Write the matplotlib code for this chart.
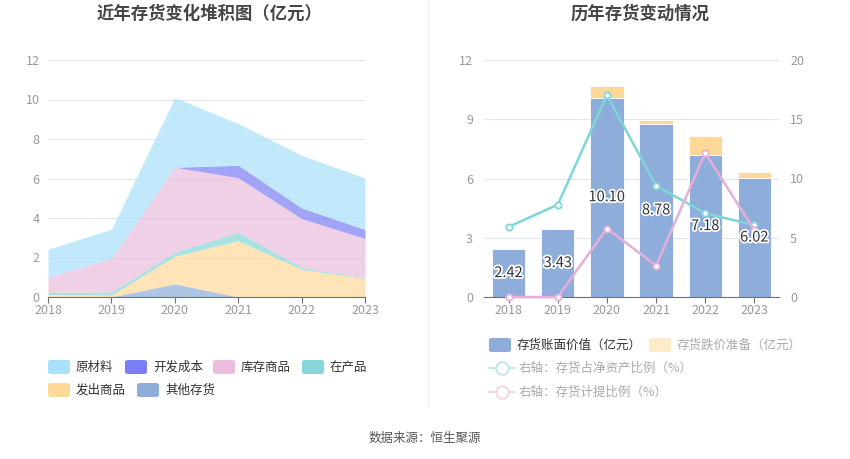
import matplotlib
matplotlib.use("Agg")
import matplotlib.pyplot as plt
import matplotlib.patheffects as pe
from matplotlib.patches import FancyBboxPatch
from matplotlib.lines import Line2D
import numpy as np

plt.rcParams['font.family'] = ['Noto Sans CJK SC', 'DejaVu Sans']

years = ['2018', '2019', '2020', '2021', '2022', '2023']

# left chart: stacked inventory components (亿元), bottom to top
other_inv = [0.0, 0.0, 0.67, 0.0, 0.0, 0.0]       # 其他存货
shipped = [0.13, 0.10, 1.40, 2.85, 1.40, 0.93]      # 发出商品
wip = [0.12, 0.15, 0.20, 0.43, 0.10, 0.03]          # 在产品
goods = [0.76, 1.70, 4.30, 2.76, 2.47, 2.00]        # 库存商品
dev_cost = [0.0, 0.0, 0.0, 0.63, 0.54, 0.46]        # 开发成本
raw = [1.41, 1.48, 3.53, 2.11, 2.67, 2.60]          # 原材料

# right chart
book_value = [2.42, 3.43, 10.10, 8.78, 7.18, 6.02]  # 存货账面价值
reserve = [0.0, 0.0, 0.59, 0.20, 0.96, 0.33]        # 存货跌价准备
ratio_net = [5.92, 7.79, 17.04, 9.39, 7.07, 6.06]   # 存货占净资产比例 %
ratio_prov = [0.0, 0.0, 5.78, 2.65, 12.15, 5.64]    # 存货计提比例 %

W, H = 850, 459
fig = plt.figure(figsize=(8.5, 4.59), dpi=100)

def fx(x):
    return x / W

def fy(y):
    return 1 - y / H

grid_c = '#e0e6f1'
tick_c = '#999999'
axis_c = '#6e7079'

# ---------- left: stacked area ----------
ax1 = fig.add_axes([fx(48), fy(297), fx(365 - 48), (297 - 60) / H])
x = np.arange(len(years))
stack_names = ['其他存货', '发出商品', '在产品', '库存商品', '开发成本', '原材料']
stack_vals = [other_inv, shipped, wip, goods, dev_cost, raw]
stack_cols = ['#8eadd9', '#fed998', '#85d6d8', '#ebbcdc', '#7b7ff5', '#a9e1fa']
base = np.zeros(len(years))
for name, vals, c in zip(stack_names, stack_vals, stack_cols):
    top = base + np.array(vals)
    ax1.fill_between(x, base, top, color=c, alpha=0.7, linewidth=0, label=name)
    base = top
ax1.set_xlim(0, len(years) - 1)
ax1.set_ylim(0, 12)
ax1.set_yticks(range(0, 13, 2))
ax1.set_xticks(x)
ax1.set_xticklabels(years)

# ---------- right: bars + lines ----------
ax2 = fig.add_axes([fx(484), fy(297), fx(779 - 484), (297 - 60) / H])
ax2.bar(x, book_value, width=0.68, color='#8eadda', edgecolor='white', linewidth=0.6, zorder=2)
ax2.bar(x, reserve, width=0.68, bottom=book_value, color='#fed898', edgecolor='white',
        linewidth=0.6, zorder=2)
ax2.set_xlim(-0.5, len(years) - 0.5)
ax2.set_ylim(0, 12)
ax2.set_yticks(range(0, 13, 3))
ax2.set_xticks(x)
ax2.set_xticklabels(years)

ax3 = ax2.twinx()
ax3.plot(x, ratio_net, color='#7fd6d8', lw=1.8, marker='o', ms=4.5, mfc='white',
         mec='#7fd6d8', mew=1.3, zorder=4)
ax3.plot(x, ratio_prov, color='#e6aed8', lw=1.8, marker='o', ms=4.5, mfc='white',
         mec='#e6aed8', mew=1.3, zorder=4, clip_on=False)
ax3.set_ylim(0, 20)
ax3.set_yticks(range(0, 21, 5))
# bar value labels drawn above the lines
for i, v in enumerate(book_value):
    ax3.text(i, v / 2, f'{v:.2f}', transform=ax2.transData, ha='center', va='center',
             fontsize=10.5, color='#333333', zorder=6,
             path_effects=[pe.withStroke(linewidth=2.5, foreground='white')])

for a in (ax1, ax2, ax3):
    for s in ('top', 'right', 'left'):
        a.spines[s].set_visible(False)
    a.spines['bottom'].set_color(axis_c)
    a.tick_params(axis='y', length=0, labelsize=9, labelcolor=tick_c, pad=8)
    a.tick_params(axis='x', length=4, color=axis_c, labelsize=9, labelcolor=tick_c, pad=1)
ax3.spines['bottom'].set_visible(False)
for a in (ax1, ax2):
    a.yaxis.grid(True, color=grid_c, lw=0.8)
    a.set_axisbelow(True)
ax1.tick_params(axis='y', pad=6)
ax1.set_zorder(1)

# ---------- titles, legends, separator ----------
fig.text(fx(210), fy(14), '近年存货变化堆积图（亿元）', ha='center', va='center',
         fontsize=12.5, fontweight='bold', color='#464646')
fig.text(fx(640), fy(14), '历年存货变动情况', ha='center', va='center',
         fontsize=12.5, fontweight='bold', color='#464646')

fig.add_artist(Line2D([fx(428), fx(428)], [fy(0), fy(407)], color='#eeeeee', lw=0.8))

def legend_patch(px, py, color, label, text_c='#333333'):
    fig.add_artist(FancyBboxPatch((fx(px), fy(py + 7)), fx(22), 14 / H,
                                  boxstyle='round,pad=0,rounding_size=0.004',
                                  transform=fig.transFigure, color=color, lw=0))
    fig.text(fx(px + 28), fy(py), label, ha='left', va='center', fontsize=9, color=text_c)

legend_items = [('原材料', 48, 367), ('开发成本', 125, 367), ('库存商品', 213, 367),
                ('在产品', 302, 367), ('发出商品', 48, 390), ('其他存货', 137, 390)]
leg_cols = dict(zip(stack_names, stack_cols))
for name, px, py in legend_items:
    legend_patch(px, py, leg_cols[name], name)

legend_patch(489, 345, '#8eadda', '存货账面价值（亿元）')
legend_patch(649, 345, '#feecc9', '存货跌价准备（亿元）', '#aaaaaa')

def legend_line(py, color, label):
    fig.add_artist(Line2D([fx(489), fx(514)], [fy(py), fy(py)], color=color, lw=1.5))
    fig.add_artist(Line2D([fx(501.5)], [fy(py)], marker='o', ms=9, mfc='white',
                          mec=color, mew=1.5, lw=0))
    fig.text(fx(519), fy(py), label, ha='left', va='center', fontsize=9, color='#aaaaaa')

legend_line(368, '#bfeaeb', '右轴：存货占净资产比例（%）')
legend_line(392, '#f3d5ec', '右轴：存货计提比例（%）')

fig.text(fx(425), fy(438), '数据来源：恒生聚源', ha='center', va='center',
         fontsize=9, color='#555555')

fig.savefig('out.png', dpi=100)
